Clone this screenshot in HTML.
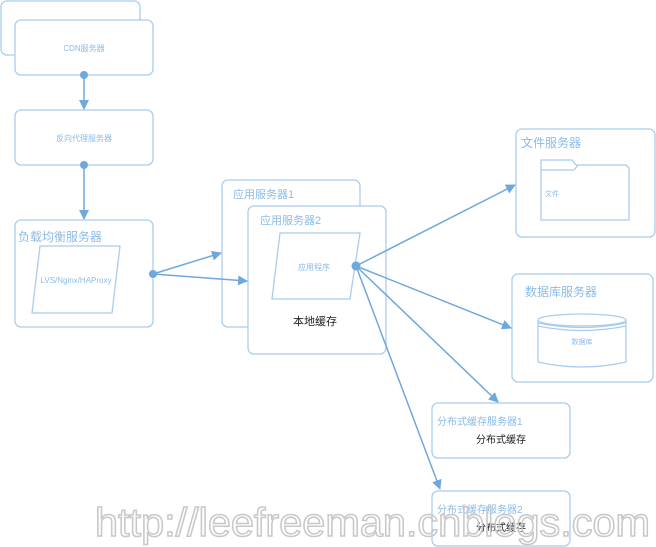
<!DOCTYPE html>
<html><head><meta charset="utf-8"><style>
body{margin:0;background:#fff;width:656px;height:547px;overflow:hidden;position:relative;font-family:"Liberation Sans","Noto Sans CJK SC",sans-serif}
svg{position:absolute;left:0;top:0}
</style></head><body>
<svg width="656" height="547" font-family="Liberation Sans, Noto Sans CJK SC, sans-serif">
<defs><marker id="a" markerWidth="10" markerHeight="10" refX="9" refY="5" orient="auto" markerUnits="userSpaceOnUse"><path d="M0,0 L10,5 L0,10 z" fill="#6fa8dc"/></marker></defs>
<g fill="#fff" stroke="#a9cdee" stroke-width="1.3">
<rect x="1" y="1" width="139" height="54" rx="6"/>
<rect x="15" y="20" width="138" height="55" rx="6"/>
<rect x="15" y="110" width="138" height="55" rx="6"/>
<rect x="15" y="220" width="138" height="107" rx="6"/>
<path d="M40,246 L120,246 L112,313 L32,313 z"/>
<rect x="222" y="180" width="138" height="147" rx="6"/>
<rect x="248" y="206" width="138" height="148" rx="6"/>
<path d="M280,233 L360,233 L350,299 L272,299 z"/>
<rect x="516" y="129" width="139" height="108" rx="6"/>
<path d="M541,165 L541,160 L572,160 L576,165 L626,165 L629,168 L629,220 L541,220 z M541,170 L574,170 L578,165"/>
<rect x="512" y="274" width="141" height="108" rx="6"/>
<path d="M538,320 L538,362 Q582,372 626,362 L626,320"/>
<ellipse cx="582" cy="320" rx="44" ry="6"/>
<path d="M538,323 Q582,332 626,323 M538,326 Q582,335 626,326" fill="none"/>
<rect x="432" y="403" width="138" height="55" rx="6"/>
<rect x="432" y="491" width="138" height="55" rx="6"/>
</g>
<g stroke="#6fa8dc" stroke-width="1.5" fill="none" marker-end="url(#a)">
<line x1="84" y1="75" x2="84" y2="109"/>
<line x1="84" y1="165" x2="84" y2="219"/>
<line x1="153" y1="274" x2="221" y2="253"/>
<line x1="153" y1="274" x2="247" y2="281"/>
<line x1="356" y1="266" x2="515" y2="185"/>
<line x1="356" y1="266" x2="511" y2="328"/>
<line x1="356" y1="266" x2="498" y2="402"/>
<line x1="356" y1="266" x2="440" y2="489"/>
</g>
<g fill="#6fa8dc"><circle cx="84" cy="75" r="4"/><circle cx="84" cy="165" r="4"/><circle cx="356" cy="266" r="4.5"/><circle cx="153" cy="274" r="4"/></g>
<g fill="#8bbbe6">
<text x="84" y="51" font-size="8" text-anchor="middle">CDN服务器</text>
<text x="84" y="141" font-size="8" text-anchor="middle">反向代理服务器</text>
<text x="18" y="241" font-size="12">负载均衡服务器</text>
<text x="76" y="283" font-size="8" text-anchor="middle">LVS/Nginx/HAProxy</text>
<text x="233" y="198" font-size="11">应用服务器1</text>
<text x="260" y="224" font-size="11">应用服务器2</text>
<text x="314" y="270" font-size="8" text-anchor="middle">应用程序</text>
<text x="521" y="147" font-size="12">文件服务器</text>
<text x="545" y="196" font-size="7">文件</text>
<text x="525" y="296" font-size="12">数据库服务器</text>
<text x="582" y="344" font-size="7" text-anchor="middle">数据库</text>
<text x="437" y="425" font-size="10">分布式缓存服务器1</text>
<text x="437" y="513" font-size="10">分布式缓存服务器2</text>
</g>
<g fill="#222">
<text x="315" y="325" font-size="11" text-anchor="middle">本地缓存</text>
<text x="501" y="443" font-size="10" text-anchor="middle">分布式缓存</text>
<text x="501" y="531" font-size="10" text-anchor="middle">分布式缓存</text>
</g>
<text x="95" y="536" font-size="40" textLength="555" lengthAdjust="spacingAndGlyphs" fill="none" stroke="#c8c8c8" stroke-width="1.5" font-family="Liberation Sans, sans-serif">http://leefreeman.cnblogs.com</text>
</svg>
</body></html>
